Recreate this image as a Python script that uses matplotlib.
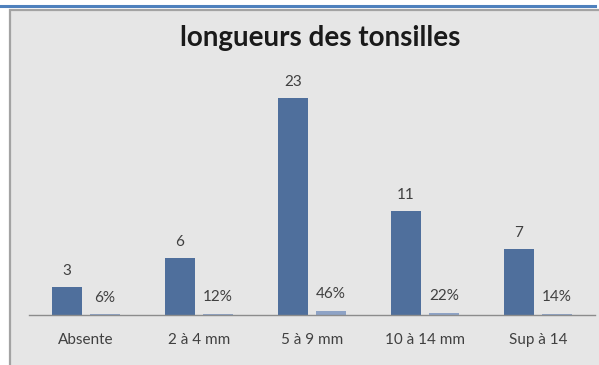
import matplotlib
matplotlib.use("Agg")
import matplotlib.pyplot as plt
from matplotlib.patches import Rectangle
from matplotlib.lines import Line2D
import numpy as np

# tonsil length classes, patient counts and share of the total
categories = ["Absente", "2 à 4 mm", "5 à 9 mm", "10 à 14 mm", "Sup à 14"]
counts = [3, 6, 23, 11, 7]
shares = [0.06, 0.12, 0.46, 0.22, 0.14]
share_labels = ["6%", "12%", "46%", "22%", "14%"]

W, H = 599, 365
plt.rcParams["font.family"] = ["Lato", "DejaVu Sans"]

fig = plt.figure(figsize=(W / 100, H / 100), dpi=100, facecolor="white")

# grey chart frame and the blue rule above it
fig.patches.append(Rectangle((9.5 / W, -0.05), 1.0, 1 - 9.5 / H + 0.05,
                             transform=fig.transFigure, facecolor="#E6E6E6",
                             edgecolor="#A3A3A3", linewidth=1.6, zorder=-2))
fig.lines.append(Line2D([0, 595 / W], [1 - 6 / H, 1 - 6 / H],
                        transform=fig.transFigure, color="#4F81BD",
                        linewidth=2.2, zorder=-1))

ax = fig.add_axes([29 / W, (H - 315) / H, (594.5 - 29) / W, (315 - 60) / H])
ax.set_facecolor("none")
ax.set_zorder(2)

x = np.arange(len(categories))
bw = 0.265
off = 0.168
dark = ax.bar(x - off, counts, bw, color="#4F6F9C", zorder=2)
light = ax.bar(x + off, shares, bw, color="#8EA3C6", zorder=2)

for rect, v in zip(dark, counts):
    ax.annotate(str(v), (rect.get_x() + rect.get_width() / 2, rect.get_height()),
                xytext=(0, 11.5), textcoords="offset points", ha="center",
                va="center", fontsize=11, color="#404040")
for rect, lab in zip(light, share_labels):
    ax.annotate(lab, (rect.get_x() + rect.get_width() / 2, rect.get_height()),
                xytext=(0, 12), textcoords="offset points", ha="center",
                va="center", fontsize=11, color="#404040")

ax.set_xlim(-0.5, len(categories) - 0.5)
ax.set_ylim(0, 27)
ax.set_xticks(x)
ax.set_xticklabels(categories, fontsize=11, color="#404040")
ax.tick_params(axis="x", length=0, pad=13)
ax.set_yticks([])
for side in ["top", "right", "left"]:
    ax.spines[side].set_visible(False)
ax.spines["bottom"].set_color("#8C8C8C")
ax.spines["bottom"].set_linewidth(1.0)

fig.text(320 / W, 1 - 38 / H, "longueurs des tonsilles", ha="center",
         va="center", fontsize=20, fontweight="bold", color="#1A1A1A")

fig.savefig("out.png", dpi=100, facecolor=fig.get_facecolor())
